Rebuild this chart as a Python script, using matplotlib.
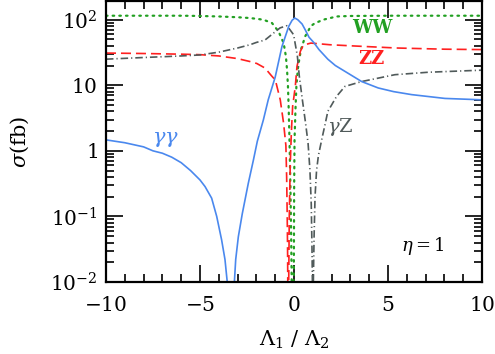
import numpy as np
import matplotlib
matplotlib.use('Agg')
import matplotlib.pyplot as plt
from matplotlib.ticker import MultipleLocator, LogLocator, NullFormatter, FixedLocator

plt.rcParams['font.family'] = 'DejaVu Serif'
plt.rcParams['mathtext.fontset'] = 'dejavuserif'

# sigma(fb) vs Lambda1/Lambda2 (1e-4 marks a zero)
x_gg = [-10, -9, -8, -7.5, -7, -6.5, -6, -5.5, -5, -4.73, -4.38, -4.11, -3.85, -3.67,
        -3.55, -3.45, -3.36, -3.27, -3.17, -3.1, -2.96, -2.75, -2.43, -2.16, -1.95,
        -1.63, -1.37, -1.0, -0.64, -0.28, -0.1, 0.04, 0.2, 0.43, 0.6, 0.8, 1.05, 1.33,
        1.8, 2.2, 2.71, 3.6, 4.48, 5.3, 6.26, 8.03, 10]
y_gg = [1.47, 1.33, 1.15, 1.0, 0.92, 0.8, 0.66, 0.5, 0.36, 0.285, 0.19, 0.1, 0.044, 0.022,
        0.01, 0.0025, 1e-4, 0.0025, 0.01, 0.022, 0.049, 0.11, 0.32, 0.72, 1.4,
        2.95, 6.0, 13.3, 39, 79, 98, 106, 100, 86, 70, 54, 45, 35,
        25, 20, 16.3, 11.4, 9.1, 8.0, 7.2, 6.3, 6.0]

x_zz = [-10, -8, -6, -5, -4, -3, -2.34, -1.98, -1.54, -1.2, -0.99, -0.73, -0.55, -0.43,
        -0.39, -0.36, -0.34, -0.33, -0.31, -0.28, -0.25, -0.2, -0.14, -0.07, 0.07,
        0.16, 0.34, 0.5, 0.9, 1.5, 1.91, 3, 5.46, 8, 10]
y_zz = [31, 30.5, 29.8, 29.3, 28, 25.5, 23, 21.5, 18.3, 14, 12, 6.0, 2.6, 1.2,
        0.4, 0.1, 0.03, 0.01, 1e-4, 0.01, 0.1, 0.6, 1.9, 4.8, 9.6,
        19.4, 33, 41, 44, 42.5, 41.5, 40, 37, 35.5, 35]

x_ww = [-10, -8, -6, -5, -4, -3, -2.34, -1.98, -1.63, -1.17, -0.82, -0.55, -0.43, -0.37,
        -0.32, -0.28, -0.24, -0.19, -0.15, -0.12, -0.06, -0.01, 0.01, 0.03, 0.08,
        0.13, 0.22, 0.37, 0.6, 0.9, 1.1, 1.56, 2.27, 3, 5, 10]
y_ww = [115, 115, 115, 114, 112, 109, 106, 103, 100, 89, 66, 44, 27.6, 17.4,
        9.6, 4.3, 1.5, 0.3, 0.05, 0.01, 1e-4, 0.01, 0.3, 1.5, 4.3,
        10, 19.4, 35, 56, 80, 88, 100, 112, 114, 115, 115]

x_gz = [-10, -8, -6, -5, -4, -3, -2.34, -2, -1.54, -1.1, -0.74, -0.37, -0.02, 0.18,
        0.28, 0.43, 0.62, 0.75, 0.85, 0.92, 0.96, 0.98, 1.0, 1.03, 1.07, 1.12, 1.2,
        1.3, 1.5, 1.65, 1.8, 2.0, 2.27, 2.71, 3.6, 5.37, 7.14, 10]
y_gz = [25, 26.5, 28, 29, 32, 37, 41.5, 45, 49, 62, 75, 81, 59, 28,
        14, 6.5, 2.6, 1.3, 0.5, 0.15, 0.03, 0.01, 1e-4, 0.01, 0.05, 0.2, 0.5,
        0.85, 1.6, 2.5, 4.0, 5.0, 6.8, 9.6, 11.4, 14.5, 15.8, 17]

fig = plt.figure(figsize=(4.95, 3.54), dpi=100)
ax = fig.add_axes([0.2141, 0.2034, 0.7596, 0.7926])

ax.plot(x_ww, y_ww, color='#22a022', lw=1.6, linestyle=(0, (0.7, 2.3)), dash_capstyle='round')
ax.plot(x_zz, y_zz, color='#ff2020', lw=1.2, linestyle=(0, (6, 3)))
ax.plot(x_gz, y_gz, color='#505a5a', lw=1.2, linestyle=(0, (4.5, 1.8, 0.7, 1.8)))
ax.plot(x_gg, y_gg, color='#4a88ee', lw=1.2)

ax.set_yscale('log')
ax.set_xlim(-10, 10)
ax.set_ylim(0.01, 190)

ax.set_xticks([-10, -5, 0, 5, 10])
ax.set_xticklabels(['$-10$', '$-5$', '$0$', '$5$', '$10$'])
ax.xaxis.set_minor_locator(MultipleLocator(1))
ax.yaxis.set_major_locator(FixedLocator([0.01, 0.1, 1, 10, 100]))
ax.set_yticklabels(['$10^{-2}$', '$10^{-1}$', '$1$', '$10$', '$10^{2}$'])
ax.yaxis.set_minor_locator(LogLocator(base=10, subs=np.arange(2, 10)))
ax.yaxis.set_minor_formatter(NullFormatter())

ax.tick_params(which='both', direction='in', top=True, right=True, width=1.2, labelsize=14.5)
ax.tick_params(which='major', length=12)
ax.tick_params(which='minor', length=6)
ax.tick_params(axis='x', pad=10)
ax.tick_params(axis='y', pad=6)
for s in ax.spines.values():
    s.set_linewidth(1.6)

ax.set_xlabel(r'$\Lambda_1\ /\ \Lambda_2$', fontsize=15, labelpad=10)
ax.set_ylabel(r'$\sigma$(fb)', fontsize=15, labelpad=14)

ax.text(4.15, 63, 'WW', color='#22a022', fontsize=13, fontweight='bold', ha='center', va='baseline')
ax.text(4.1, 21.3, 'ZZ', color='#ff2020', fontsize=13, fontweight='bold', ha='center', va='baseline')
ax.text(2.45, 1.97, r'$\gamma$Z', color='#505a5a', fontsize=14, ha='center', va='baseline')
ax.text(-6.86, 1.32, r'$\gamma\gamma$', color='#4a88ee', fontsize=15, ha='center', va='baseline')
ax.text(6.86, 0.0297, r'$\eta = 1$', color='black', fontsize=13, ha='center', va='baseline')

fig.savefig('out.png', dpi=100)
